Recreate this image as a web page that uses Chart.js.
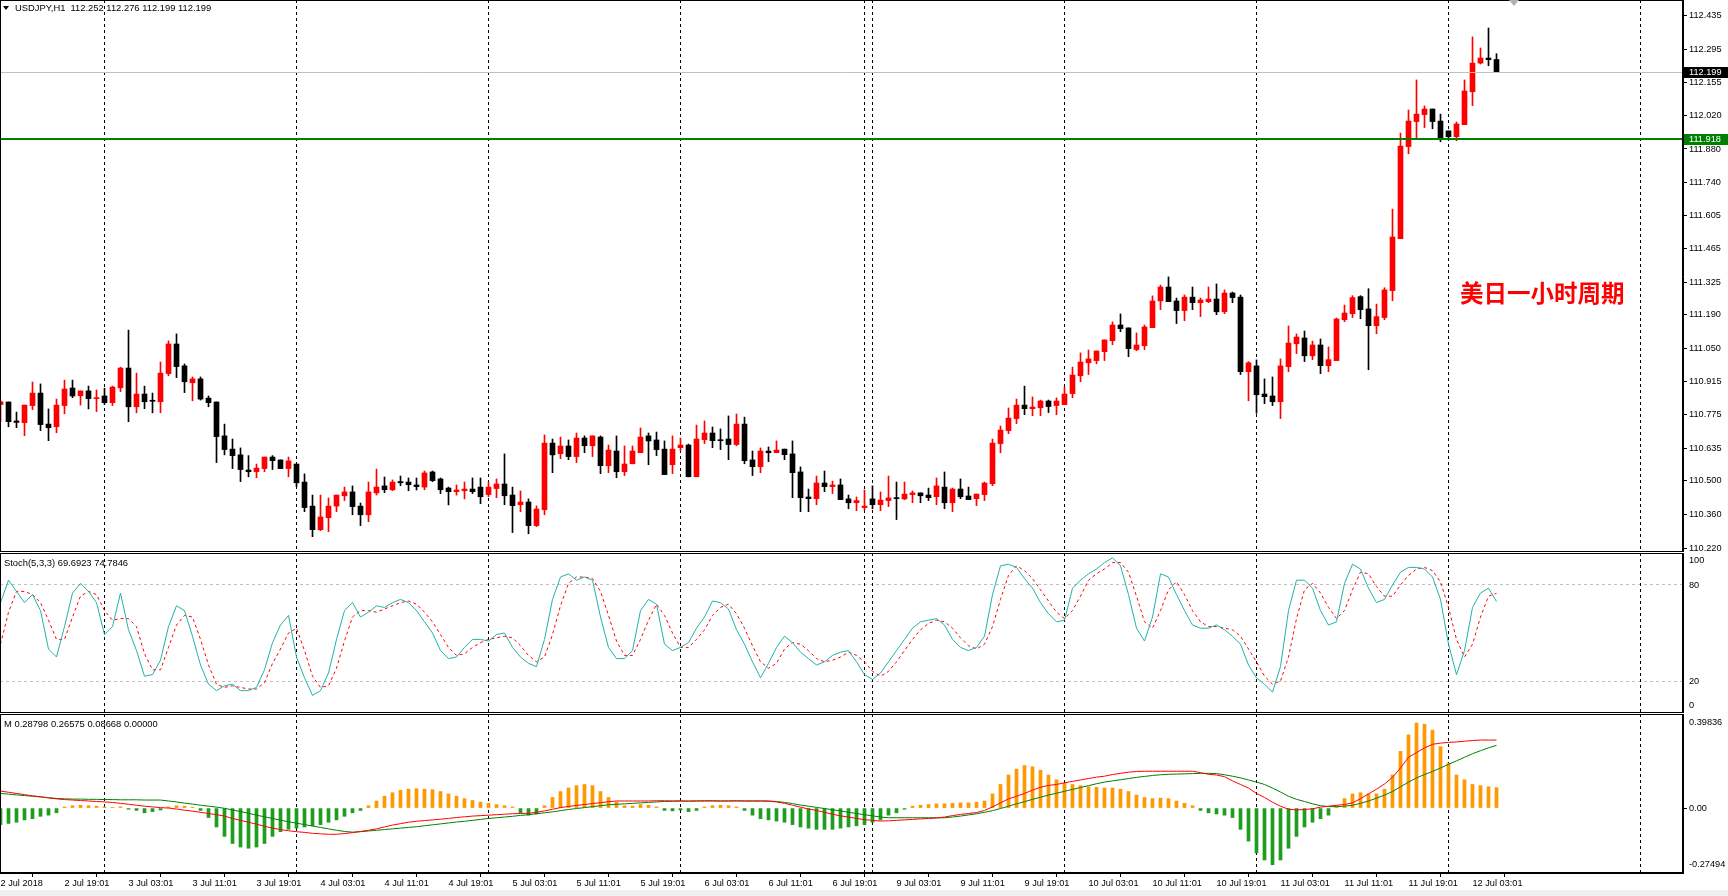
<!DOCTYPE html>
<html>
<head>
<meta charset="utf-8">
<script src="https://cdn.jsdelivr.net/npm/chart.js@4.4.0/dist/chart.umd.min.js"></script>
<style>
  html, body { margin: 0; padding: 0; background: #fff; width: 1728px; height: 896px; overflow: hidden; }
  canvas { position: absolute; left: 0; }
  #mainChart { top: 0; }
  #stochChart { top: 553px; }
  #macdChart { top: 714px; }
  .lbl { position: absolute; font: 9.4px "Liberation Sans", Arial, sans-serif; color: #000; white-space: pre; line-height: 11px; z-index: 2; }
  #tri { position: absolute; left: 3px; top: 6px; width: 0; height: 0; border-left: 3px solid transparent; border-right: 3px solid transparent; border-top: 4px solid #000; }
  #shift { position: absolute; left: 1509px; top: 0; width: 0; height: 0; border-left: 5px solid transparent; border-right: 5px solid transparent; border-top: 6px solid #b0b0b0; }
  #cn { position: absolute; left: 1460px; top: 280px; font: bold 23.5px "Noto Sans CJK SC", sans-serif; color: #ff0000; line-height: 25px; z-index: 2; }
  #strip { position: absolute; left: 0; top: 890px; width: 1728px; height: 6px; background: #f0f0f0; }
</style>
</head>
<body>
<div id="strip"></div>
<canvas id="mainChart" width="1728" height="552"></canvas>
<canvas id="stochChart" width="1728" height="160"></canvas>
<canvas id="macdChart" width="1728" height="182"></canvas>
<div id="tri"></div>
<div class="lbl" style="left:15px;top:2px">USDJPY,H1  112.252 112.276 112.199 112.199</div>
<div class="lbl" style="left:4px;top:557px">Stoch(5,3,3) 69.6923 74.7846</div>
<div class="lbl" style="left:4px;top:718px">M 0.28798 0.26575 0.08668 0.00000</div>
<div id="shift"></div>
<div id="cn">美日一小时周期</div>
<script>
// ===== DATA (USDJPY H1, bar 0 = 2 Jul 11:00) =====
const openP = [
  110.817,110.828,110.749,110.742,110.813,110.865,110.736,110.725,110.813,110.886,
  110.854,110.874,110.842,110.853,110.825,110.887,110.969,110.808,110.861,110.833,
  110.829,110.946,111.069,110.978,110.908,110.924,110.844,110.828,110.687,110.632,
  110.608,110.545,110.538,110.551,110.599,110.587,110.551,110.570,110.495,110.395,
  110.297,110.347,110.395,110.438,110.454,110.395,110.359,110.450,110.479,110.463,
  110.497,110.495,110.483,110.474,110.537,110.508,110.470,110.455,110.459,110.466,
  110.474,110.443,110.468,110.487,110.441,110.401,110.412,110.314,110.380,110.657,
  110.613,110.645,110.601,110.678,110.646,110.682,110.563,110.624,110.538,110.571,
  110.617,110.687,110.670,110.632,110.567,110.638,110.649,110.517,110.671,110.699,
  110.671,110.674,110.651,110.736,110.587,110.559,110.624,110.617,110.632,110.612,
  110.537,110.433,110.426,110.491,110.476,110.483,110.425,110.409,110.389,110.425,
  110.401,110.418,110.429,110.425,110.443,110.450,110.441,110.434,110.474,110.409,
  110.466,110.437,110.426,110.443,110.488,110.655,110.709,110.759,110.815,110.800,
  110.804,110.832,110.813,110.817,110.863,110.937,110.991,111.000,111.037,111.083,
  111.148,111.136,111.046,111.062,111.137,111.248,111.306,111.248,111.208,111.264,
  111.241,111.245,111.256,111.203,111.281,111.264,110.954,110.978,110.861,110.853,
  110.829,110.975,111.070,111.094,111.020,111.065,110.979,111.000,111.170,111.195,
  111.266,111.215,111.145,111.179,111.291,111.507,111.890,111.994,112.023,112.046,
  111.996,111.955,111.931,111.981,112.118,112.237,112.258,112.252
];
const highP = [
  110.836,110.828,110.786,110.815,110.911,110.903,110.799,110.840,110.919,110.919,
  110.874,110.894,110.878,110.885,110.894,110.973,111.127,110.948,110.894,110.865,
  110.994,111.082,111.111,110.986,110.932,110.932,110.853,110.828,110.736,110.674,
  110.637,110.605,110.570,110.599,110.605,110.587,110.599,110.570,110.529,110.441,
  110.441,110.429,110.441,110.474,110.479,110.408,110.495,110.549,110.516,110.504,
  110.520,110.512,110.512,110.541,110.541,110.512,110.474,110.483,110.495,110.512,
  110.512,110.495,110.508,110.612,110.474,110.458,110.425,110.396,110.691,110.674,
  110.682,110.670,110.699,110.687,110.687,110.687,110.649,110.687,110.645,110.645,
  110.720,110.699,110.703,110.666,110.687,110.678,110.653,110.732,110.749,110.724,
  110.716,110.770,110.778,110.765,110.624,110.637,110.641,110.666,110.632,110.666,
  110.558,110.466,110.520,110.541,110.499,110.508,110.441,110.433,110.462,110.479,
  110.454,110.520,110.495,110.495,110.458,110.450,110.470,110.512,110.537,110.470,
  110.508,110.474,110.445,110.495,110.674,110.728,110.803,110.840,110.894,110.849,
  110.836,110.836,110.845,110.890,110.973,111.032,111.044,111.040,111.086,111.161,
  111.194,111.136,111.115,111.148,111.269,111.314,111.348,111.260,111.273,111.306,
  111.260,111.306,111.319,111.294,111.285,111.273,110.996,111.003,110.924,110.932,
  111.007,111.144,111.111,111.123,111.081,111.090,111.057,111.177,111.231,111.270,
  111.270,111.299,111.235,111.303,111.630,111.946,112.042,112.167,112.059,112.046,
  112.025,111.955,111.992,112.167,112.346,112.300,112.383,112.276
];
const lowP = [
  110.746,110.725,110.721,110.688,110.796,110.709,110.667,110.700,110.779,110.846,
  110.815,110.799,110.788,110.817,110.813,110.871,110.746,110.783,110.800,110.783,
  110.783,110.937,110.929,110.867,110.833,110.836,110.808,110.576,110.608,110.551,
  110.497,110.517,110.513,110.538,110.547,110.551,110.517,110.476,110.372,110.268,
  110.293,110.289,110.372,110.418,110.359,110.314,110.330,110.441,110.451,110.459,
  110.480,110.459,110.462,110.463,110.497,110.447,110.400,110.441,110.425,110.447,
  110.405,110.434,110.430,110.401,110.285,110.372,110.280,110.310,110.359,110.534,
  110.592,110.588,110.576,110.617,110.601,110.530,110.534,110.513,110.522,110.571,
  110.617,110.567,110.605,110.526,110.530,110.626,110.517,110.517,110.655,110.638,
  110.630,110.588,110.646,110.571,110.522,110.534,110.580,110.617,110.588,110.430,
  110.372,110.372,110.401,110.455,110.447,110.422,110.384,110.376,110.379,110.384,
  110.376,110.393,110.339,110.422,110.409,110.409,110.418,110.401,110.384,110.372,
  110.426,110.422,110.397,110.418,110.480,110.617,110.696,110.738,110.775,110.771,
  110.771,110.784,110.775,110.817,110.846,110.912,110.942,110.987,111.000,111.066,
  111.120,111.016,111.041,111.046,111.137,111.212,111.245,111.154,111.166,111.212,
  111.183,111.241,111.191,111.195,111.241,110.942,110.833,110.781,110.821,110.813,
  110.759,110.954,111.029,110.996,111.004,110.946,110.954,111.000,111.162,111.179,
  111.174,110.962,111.112,111.170,111.249,111.507,111.860,111.927,111.969,111.964,
  111.910,111.919,111.914,111.981,112.060,112.233,112.226,112.199
];
const closeP = [
  110.829,110.746,110.743,110.815,110.865,110.734,110.721,110.815,110.882,110.853,
  110.874,110.842,110.844,110.825,110.890,110.969,110.808,110.861,110.829,110.831,
  110.948,111.069,110.975,110.912,110.924,110.840,110.825,110.684,110.630,110.605,
  110.547,110.538,110.553,110.599,110.584,110.551,110.583,110.492,110.389,110.297,
  110.350,110.395,110.441,110.454,110.393,110.359,110.454,110.474,110.463,110.495,
  110.492,110.484,110.476,110.533,110.501,110.463,110.455,110.462,110.466,110.455,
  110.434,110.474,110.487,110.438,110.397,110.412,110.314,110.383,110.657,110.608,
  110.645,110.601,110.678,110.646,110.687,110.563,110.628,110.538,110.570,110.624,
  110.682,110.666,110.630,110.526,110.632,110.649,110.517,110.674,110.699,110.667,
  110.667,110.651,110.736,110.584,110.559,110.624,110.617,110.628,110.609,110.534,
  110.430,110.426,110.491,110.476,110.483,110.422,110.409,110.418,110.395,110.401,
  110.420,110.429,110.426,110.445,110.450,110.438,110.430,110.479,110.409,110.466,
  110.434,110.422,110.445,110.491,110.657,110.711,110.761,110.815,110.800,110.807,
  110.832,110.809,110.832,110.861,110.940,110.994,111.007,111.040,111.086,111.148,
  111.133,111.050,111.065,111.140,111.248,111.306,111.245,111.208,111.264,111.241,
  111.252,111.256,111.203,111.281,111.262,110.954,110.991,110.858,110.850,110.829,
  110.978,111.073,111.098,111.020,111.065,110.979,111.004,111.173,111.198,111.262,
  111.212,111.145,111.183,111.294,111.514,111.892,111.996,112.025,112.046,111.994,
  111.923,111.931,111.984,112.121,112.237,112.258,112.251,112.199
];

// Stochastic (5,3,3): main %K and signal %D
const stochK = [
  69,83,76,69,74,64,40,35,54,75, 81,76,69,49,54,75,52,39,23,24,
  33,54,67,64,48,30,18,14,17,18, 14,14,16,27,44,55,61,35,22,11,
  14,25,46,64,69,60,63,67,66,69, 71,69,64,57,50,39,34,35,41,46,
  46,45,49,50,41,35,31,29,46,71, 85,87,83,85,83,60,41,34,34,39,
  64,71,68,43,39,41,44,53,60,70, 69,65,52,43,32,22,31,41,48,44,
  38,34,30,32,36,38,39,32,24,21, 25,32,39,46,53,57,58,59,55,46,
  41,39,41,48,74,92,93,91,84,78, 69,62,57,58,78,83,87,90,94,97,
  92,74,53,45,60,87,85,74,64,55, 53,53,55,52,48,43,30,22,18,13,
  29,64,83,83,78,64,55,57,81,93, 90,78,69,71,80,88,91,91,90,85,
  71,43,24,39,66,75,78,69.69
];
const stochD = [
  43,63,76,76,74,69,58,46,46,60, 73,76,74,64,58,59,59,54,37,27,
  27,41,55,61,60,46,30,18,16,17, 16,15,15,19,31,40,50,53,39,23,
  16,17,28,45,60,64,64,63,65,67, 69,70,68,63,57,49,41,36,37,41,
  44,46,47,48,47,42,36,32,35,49, 67,81,85,85,84,76,61,45,36,36,
  46,58,68,61,50,41,41,46,52,61, 66,68,62,53,42,32,28,31,40,44,
  43,39,34,32,33,35,38,36,32,26, 23,26,32,39,46,52,56,58,57,53,
  47,42,40,43,54,71,86,92,89,84, 77,70,63,59,64,73,83,87,90,94,
  94,88,73,57,53,64,77,82,74,64, 57,54,54,53,52,48,40,32,23,18,
  20,35,59,77,81,75,66,59,64,77, 88,87,79,73,73,80,86,90,91,89,
  82,66,46,35,43,60,73,74.78
];

// "M" indicator: histogram, main line, signal line
const macdHist = [
  -0.070,-0.065,-0.060,-0.050,-0.045,-0.035,-0.030,-0.020,0.005,0.010,
  0.012,0.010,0.008,0.005,0.003,0.005,-0.005,-0.010,-0.020,-0.015,
  -0.008,0.005,0.010,0.008,0.004,-0.010,-0.040,-0.080,-0.120,-0.150,
  -0.165,-0.170,-0.165,-0.150,-0.120,-0.100,-0.090,-0.085,-0.080,-0.075,
  -0.070,-0.060,-0.050,-0.035,-0.020,-0.010,0.010,0.030,0.050,0.065,
  0.075,0.080,0.082,0.080,0.078,0.070,0.060,0.050,0.040,0.032,
  0.025,0.020,0.015,0.010,0.005,-0.020,-0.030,-0.025,0.010,0.045,
  0.070,0.085,0.095,0.100,0.095,0.070,0.045,0.025,0.010,0.008,
  0.015,0.012,0.005,-0.010,-0.012,-0.008,-0.015,-0.010,0.005,0.010,
  0.012,0.010,0.005,-0.010,-0.030,-0.045,-0.050,-0.055,-0.060,-0.070,
  -0.080,-0.085,-0.090,-0.090,-0.090,-0.085,-0.080,-0.075,-0.070,-0.060,
  -0.050,-0.030,-0.020,-0.005,0.008,0.012,0.015,0.018,0.018,0.020,
  0.022,0.022,0.025,0.030,0.060,0.100,0.140,0.165,0.180,0.175,
  0.160,0.140,0.120,0.105,0.100,0.095,0.090,0.088,0.085,0.085,
  0.080,0.070,0.055,0.045,0.040,0.042,0.040,0.030,0.020,0.010,
  -0.010,-0.020,-0.025,-0.030,-0.040,-0.090,-0.140,-0.190,-0.220,-0.240,
  -0.220,-0.170,-0.120,-0.080,-0.060,-0.045,-0.030,0.010,0.040,0.060,
  0.065,0.060,0.060,0.080,0.140,0.240,0.310,0.360,0.355,0.330,
  0.260,0.190,0.140,0.120,0.100,0.095,0.090,0.08668
];
const macdMain = [
  0.072,0.067,0.062,0.057,0.052,0.048,0.043,0.039,0.036,0.034,
  0.032,0.030,0.028,0.026,0.024,0.020,0.016,0.012,0.008,0.005,
  0.002,0.000,-0.004,-0.009,-0.013,-0.018,-0.023,-0.028,-0.034,-0.044,
  -0.052,-0.060,-0.068,-0.077,-0.085,-0.091,-0.096,-0.100,-0.103,-0.107,
  -0.109,-0.111,-0.111,-0.108,-0.104,-0.099,-0.094,-0.088,-0.080,-0.072,
  -0.066,-0.060,-0.056,-0.053,-0.050,-0.047,-0.044,-0.040,-0.037,-0.034,
  -0.032,-0.030,-0.028,-0.026,-0.024,-0.023,-0.022,-0.018,-0.012,-0.005,
  0.002,0.007,0.011,0.015,0.019,0.023,0.027,0.030,0.030,0.030,
  0.030,0.030,0.031,0.031,0.030,0.030,0.029,0.030,0.031,0.031,
  0.030,0.030,0.031,0.030,0.030,0.030,0.029,0.026,0.020,0.012,
  0.004,-0.004,-0.010,-0.018,-0.026,-0.033,-0.038,-0.044,-0.049,-0.052,
  -0.055,-0.054,-0.052,-0.050,-0.048,-0.046,-0.044,-0.042,-0.038,-0.032,
  -0.027,-0.023,-0.019,-0.010,0.005,0.022,0.039,0.050,0.062,0.076,
  0.088,0.096,0.100,0.107,0.113,0.119,0.125,0.131,0.135,0.142,
  0.147,0.152,0.155,0.156,0.156,0.156,0.156,0.156,0.156,0.156,
  0.150,0.143,0.140,0.133,0.115,0.100,0.085,0.062,0.045,0.025,
  0.008,-0.005,-0.008,-0.006,-0.003,0.004,0.008,0.012,0.015,0.022,
  0.040,0.060,0.080,0.102,0.130,0.170,0.215,0.235,0.255,0.270,
  0.275,0.278,0.280,0.283,0.286,0.288,0.288,0.28798
];
const macdSignal = [
  0.062,0.059,0.056,0.053,0.050,0.047,0.044,0.041,0.039,0.038,
  0.038,0.037,0.037,0.036,0.036,0.035,0.035,0.035,0.034,0.034,
  0.034,0.030,0.026,0.021,0.017,0.012,0.008,0.004,-0.001,-0.008,
  -0.015,-0.022,-0.030,-0.037,-0.044,-0.051,-0.058,-0.064,-0.070,-0.076,
  -0.082,-0.088,-0.094,-0.099,-0.102,-0.100,-0.097,-0.094,-0.091,-0.088,
  -0.085,-0.082,-0.079,-0.075,-0.071,-0.067,-0.063,-0.059,-0.056,-0.052,
  -0.048,-0.044,-0.041,-0.038,-0.035,-0.031,-0.028,-0.024,-0.020,-0.016,
  -0.011,-0.006,-0.002,0.002,0.006,0.010,0.014,0.016,0.018,0.020,
  0.022,0.024,0.026,0.028,0.029,0.030,0.030,0.030,0.030,0.030,
  0.030,0.030,0.030,0.030,0.030,0.030,0.030,0.028,0.024,0.019,
  0.013,0.008,0.003,-0.002,-0.007,-0.012,-0.018,-0.023,-0.028,-0.033,
  -0.038,-0.041,-0.041,-0.041,-0.041,-0.041,-0.041,-0.041,-0.041,-0.038,
  -0.034,-0.029,-0.024,-0.018,-0.011,-0.002,0.008,0.018,0.027,0.037,
  0.046,0.055,0.063,0.071,0.079,0.087,0.095,0.103,0.110,0.115,
  0.120,0.125,0.130,0.134,0.138,0.141,0.143,0.144,0.145,0.146,
  0.147,0.147,0.146,0.141,0.135,0.128,0.119,0.110,0.100,0.085,
  0.068,0.050,0.037,0.028,0.018,0.010,0.006,0.006,0.008,0.012,
  0.020,0.030,0.042,0.055,0.070,0.090,0.110,0.128,0.142,0.155,
  0.170,0.185,0.200,0.215,0.230,0.243,0.255,0.26575
];

// axes
const priceTicks = [110.220,110.360,110.500,110.635,110.775,110.915,111.050,111.190,111.325,
  111.465,111.605,111.740,111.880,112.020,112.155,112.295,112.435];
const stochTicks = [0, 20, 80, 100];
const macdTicks = [-0.27494, 0, 0.39836];
const macdTickLabels = ["-0.27494", "0.00", "0.39836"];
const timeTickBars = [0,8,16,24,32,40,48,56,64,72,80,88,96,104,112,120,128,136,144,152,160,168,176,184];
const timeTickLabels = ["2 Jul 2018","2 Jul 19:01","3 Jul 03:01","3 Jul 11:01","3 Jul 19:01",
  "4 Jul 03:01","4 Jul 11:01","4 Jul 19:01","5 Jul 03:01","5 Jul 11:01","5 Jul 19:01",
  "6 Jul 03:01","6 Jul 11:01","6 Jul 19:01","9 Jul 03:01","9 Jul 11:01","9 Jul 19:01",
  "10 Jul 03:01","10 Jul 11:01","10 Jul 19:01","11 Jul 03:01","11 Jul 11:01","11 Jul 19:01","12 Jul 03:01"];
const separatorBars = [13, 37, 61, 85, 108, 109, 133, 157, 181, 205];
const bidPrice = 112.199;
const levelPrice = 111.918;

// ===== SETUP =====
Chart.defaults.font.family = '"Liberation Sans", Arial, sans-serif';
Chart.defaults.font.size = 9.2;
Chart.defaults.color = '#000';
Chart.defaults.animation = false;

const AXIS_W = 45;
const X_MIN = -0.0625, X_MAX = 210.3125;   // 8px per bar

function fitY(s) {
  s.width = AXIS_W;
  s.paddingTop = 0;
  s.paddingBottom = 0;
}

function xAxis(show) {
  const ax = { type: 'linear', min: X_MIN, max: X_MAX, offset: false, display: show };
  if (show) {
    Object.assign(ax, {
      position: 'bottom',
      afterFit: s => { s.height = 23; s.paddingLeft = 0; s.paddingRight = 0; },
      afterBuildTicks: s => { s.ticks = timeTickBars.map(v => ({ value: v })); },
      ticks: { autoSkip: false, maxRotation: 0, align: 'start', padding: 1,
               callback: (v, i) => timeTickLabels[i] },
      grid: { drawOnChartArea: false, tickLength: 4, color: '#000' },
      border: { color: '#000' }
    });
  }
  return ax;
}

// edge ticks are nudged inside the pane like MT4 does
function paneTicks(values, inset) {
  return s => {
    const span = s.max - s.min;
    s.ticks = values.map(v => ({
      value: v === s.max ? v - span * inset : (v === s.min ? v + span * inset : v)
    }));
  };
}

const separators = {
  id: 'separators',
  beforeDatasetsDraw(chart) {
    const { ctx, chartArea: a, scales: { x } } = chart;
    ctx.save();
    ctx.strokeStyle = '#000';
    ctx.lineWidth = 1;
    ctx.setLineDash([3, 3]);
    separatorBars.forEach(b => {
      const px = Math.floor(x.getPixelForValue(b)) + 0.5;
      ctx.beginPath();
      ctx.moveTo(px, a.top);
      ctx.lineTo(px, a.bottom);
      ctx.stroke();
    });
    ctx.restore();
  }
};

const frame = {
  id: 'frame',
  afterDraw(chart) {
    const { ctx, chartArea: a } = chart;
    ctx.save();
    ctx.strokeStyle = '#000';
    ctx.lineWidth = 1;
    ctx.strokeRect(a.left + 0.5, a.top + 0.5, a.width - 1, a.height - 1);
    ctx.restore();
  }
};

const priceLines = {
  id: 'priceLines',
  afterDatasetsDraw(chart) {
    const { ctx, chartArea: a, scales: { y } } = chart;
    ctx.save();
    const yb = Math.round(y.getPixelForValue(bidPrice)) + 0.5;
    ctx.strokeStyle = '#c0c0c0';
    ctx.lineWidth = 1;
    ctx.beginPath(); ctx.moveTo(a.left, yb); ctx.lineTo(a.right, yb); ctx.stroke();
    const yl = Math.round(y.getPixelForValue(levelPrice)) - 1;
    ctx.strokeStyle = '#008000';
    ctx.lineWidth = 2;
    ctx.beginPath(); ctx.moveTo(a.left, yl); ctx.lineTo(a.right, yl); ctx.stroke();
    ctx.restore();
  },
  afterDraw(chart) {
    const { ctx, chartArea: a, scales: { y } } = chart;
    ctx.save();
    ctx.font = '9.2px "Liberation Sans", Arial, sans-serif';
    ctx.textBaseline = 'middle';
    [[bidPrice, '#000', 0], [levelPrice, '#008000', -1]].forEach(([p, c, d]) => {
      const py = Math.round(y.getPixelForValue(p)) + d;
      ctx.fillStyle = c;
      ctx.fillRect(a.right + 1, py - 5, AXIS_W - 1, 11);
      ctx.fillStyle = '#fff';
      ctx.fillText(p.toFixed(3), a.right + 6, py + 0.5);
    });
    ctx.restore();
  }
};

const bars = openP.map((_, i) => i);
const candleColor = c => closeP[c.dataIndex] >= openP[c.dataIndex] ? '#ff0000' : '#000000';
const noUi = { legend: { display: false }, tooltip: { enabled: false } };

// ===== MAIN PRICE PANE =====
new Chart(document.getElementById('mainChart'), {
  type: 'bar',
  data: {
    datasets: [
      { // wicks
        data: bars.map(i => ({ x: i, y: [lowP[i], highP[i]] })),
        backgroundColor: candleColor, barThickness: 1, grouped: false,
        minBarLength: 1, borderWidth: 0, order: 2
      },
      { // bodies
        data: bars.map(i => ({ x: i, y: [openP[i], closeP[i]] })),
        backgroundColor: candleColor, barThickness: 5, grouped: false,
        minBarLength: 1, borderWidth: 0, order: 1
      }
    ]
  },
  options: {
    responsive: false,
    layout: { padding: 0 },
    plugins: noUi,
    scales: {
      x: xAxis(false),
      y: {
        position: 'right', min: 110.2042, max: 112.4994,
        afterFit: fitY,
        afterBuildTicks: s => { s.ticks = priceTicks.map(v => ({ value: v })); },
        ticks: { padding: 2, callback: v => v.toFixed(3) },
        grid: { drawOnChartArea: false, tickLength: 4, color: '#000' },
        border: { color: '#000' }
      }
    }
  },
  plugins: [separators, priceLines, frame]
});

// ===== STOCHASTIC PANE =====
new Chart(document.getElementById('stochChart'), {
  type: 'line',
  data: {
    datasets: [
      { data: stochK.map((v, i) => ({ x: i, y: v })), borderColor: '#20b2aa',
        borderWidth: 1, pointRadius: 0, tension: 0 },
      { data: stochD.map((v, i) => ({ x: i, y: v })), borderColor: '#ff0000',
        borderWidth: 1, borderDash: [3, 3], pointRadius: 0, tension: 0 }
    ]
  },
  options: {
    responsive: false,
    layout: { padding: 0 },
    plugins: noUi,
    scales: {
      x: xAxis(false),
      y: {
        position: 'right', min: 0, max: 100,
        afterFit: fitY,
        afterBuildTicks: paneTicks(stochTicks, 0.045),
        ticks: { padding: 6, callback: (v, i) => String(stochTicks[i]) },
        grid: {
          drawTicks: false,
          color: c => (c.tick && (c.tick.value === 20 || c.tick.value === 80)) ? '#c0c0c0' : 'rgba(0,0,0,0)'
        },
        border: { color: '#000', dash: [3, 3] }
      }
    }
  },
  plugins: [separators, frame]
});

// ===== "M" PANE =====
new Chart(document.getElementById('macdChart'), {
  type: 'bar',
  data: {
    datasets: [
      { type: 'line', data: macdMain.map((v, i) => ({ x: i, y: v })), borderColor: '#ff0000',
        borderWidth: 1, pointRadius: 0, tension: 0, order: 1 },
      { type: 'line', data: macdSignal.map((v, i) => ({ x: i, y: v })), borderColor: '#008000',
        borderWidth: 1, pointRadius: 0, tension: 0, order: 2 },
      { data: macdHist.map((v, i) => ({ x: i, y: v })),
        backgroundColor: c => (macdHist[c.dataIndex] >= 0 ? '#ff9900' : '#1e9e1e'),
        barThickness: 3, grouped: false, borderWidth: 0, order: 3 }
    ]
  },
  options: {
    responsive: false,
    layout: { padding: 0 },
    plugins: noUi,
    scales: {
      x: xAxis(true),
      y: {
        position: 'right', min: -0.27494, max: 0.39836,
        afterFit: fitY,
        afterBuildTicks: paneTicks(macdTicks, 0.055),
        ticks: { padding: 2, callback: (v, i) => macdTickLabels[i] },
        grid: { drawOnChartArea: false, tickLength: 4,
                tickColor: c => (c.tick && c.tick.value === 0) ? '#000' : 'rgba(0,0,0,0)' },
        border: { color: '#000' }
      }
    }
  },
  plugins: [separators, frame]
});
</script>
</body>
</html>
